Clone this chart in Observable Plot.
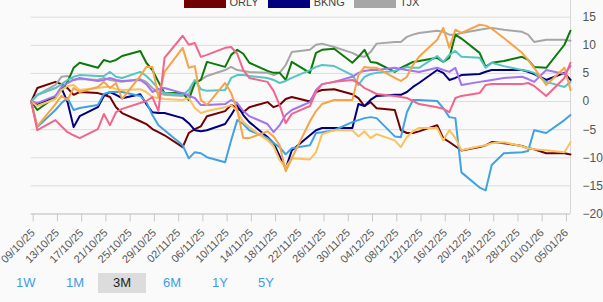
<!DOCTYPE html>
<html>
<head>
<meta charset="utf-8">
<script src="https://cdn.jsdelivr.net/npm/d3@7"></script>
<script src="https://cdn.jsdelivr.net/npm/@observablehq/plot@0.6"></script>
<style>
  html, body { margin: 0; padding: 0; background: #fafafa; width: 603px; height: 302px; overflow: hidden;
    font-family: "Liberation Sans", Arial, sans-serif; }
  #wrap { position: relative; width: 603px; height: 302px; }
  #chart { position: absolute; left: 0; top: 0; }
  #legend { position: absolute; left: 0; top: -4px; width: 603px; height: 12px; display: flex;
    justify-content: center; align-items: center; gap: 9px; }
  .item { display: flex; align-items: center; gap: 4px; font-size: 11px; line-height: 12px; color: #444; }
  .swatch { width: 42px; height: 12px; }
  #ranges { position: absolute; left: 0; top: 273px; height: 20px; }
  .btn { position: absolute; top: 0; height: 20px; line-height: 20px; font-size: 13px; color: #3d9be9; text-align: center; }
  .btn.on { background: #dcdcdc; color: #222; }
</style>
</head>
<body>
<div id="wrap">
  <div id="chart"></div>
  <div id="legend"></div>
  <div id="ranges"></div>
</div>
<script>
// Trading days shown on the chart
const dates = [
  "2025-10-09","2025-10-10","2025-10-13","2025-10-14","2025-10-15","2025-10-16","2025-10-17",
  "2025-10-20","2025-10-21","2025-10-22","2025-10-23","2025-10-24","2025-10-27","2025-10-28",
  "2025-10-29","2025-10-30","2025-10-31",
  "2025-11-03","2025-11-04","2025-11-05","2025-11-06","2025-11-07","2025-11-10","2025-11-11",
  "2025-11-12","2025-11-13","2025-11-14","2025-11-17","2025-11-18","2025-11-19","2025-11-20",
  "2025-11-21","2025-11-24","2025-11-25","2025-11-26","2025-11-28",
  "2025-12-01","2025-12-02","2025-12-03","2025-12-04","2025-12-05","2025-12-08","2025-12-09",
  "2025-12-10","2025-12-11","2025-12-12","2025-12-15","2025-12-16","2025-12-17","2025-12-18",
  "2025-12-19","2025-12-22","2025-12-23","2025-12-24","2025-12-26","2025-12-29","2025-12-30",
  "2025-12-31",
  "2026-01-02","2026-01-05","2026-01-06"
];

// Performance since 09/10/25, in percent
const orly = [0, 2.4, 3.5, 3.1, 2.4, 1.2, 1.7, 1.5, 1.2, 0.8, -1.0, -2.05, -3.5, -4.0, -4.9, -5.45, -6.0,
  -8.1, -5.6, -4.9, -4.4, -2.6, -1.7, -0.6, -1.2, -1.9, -1.0, -0.1, -1.0, -0.6, 0.45, 0.8, 0.0, 1.7, 2.05, 2.2,
  1.3, 0.6, -0.8, -0.1, -1.2, -1.5, -5.1, -5.6, -5.6, -5.3, -4.2, -6.5, -7.2, -7.95, -8.7, -8.1, -7.8, -7.2, -7.4, -7.9, -8.3, -8.5,
  -9.2, -9.2, -9.4];
const bkng = [0, -0.45, 0.8, 2.4, -0.1, -4.55, -2.6, -1.0, 1.0, 1.7, 1.2, 0.6, 1.3, -0.45, -1.9, -2.05, -2.05,
  -2.95, -3.85, -5.1, -5.3, -5.1, -4.0, -2.4, -0.6, -2.4, -3.66, -6.3, -7.4, -9.7, -11.9, -8.7, -6.0, -5.1, -4.7, -4.7,
  -4.7, -0.45, -0.8, 0.3, 1.0, 1.2, 1.2, 1.7, 2.6, 3.3, 5.6, 5.1, 3.84, 4.2, 4.7, 4.9, 5.3, 5.6, 5.6, 5.6, 5.3, 4.9,
  3.84, 5.1, 3.84];
const tjx = [0, 1.2, 2.95, 4.4, 4.55, 3.84, 4.0, 3.84, 4.2, 3.84, 3.66, 3.5, 4.0, 3.5, 2.4, 1.5, 1.2,
  1.0, 1.34, 3.3, 3.84, 4.55, 5.6, 6.16, 5.6, 5.45, 5.27, 5.1, 4.7, 5.1, 6.5, 8.8, 9.2, 10.1, 10.3, 9.7,
  8.66, 8.1, 7.95, 8.8, 10.3, 10.6, 10.6, 11.5, 11.9, 12.2, 12.6, 12.4, 11.9, 11.9, 12.2, 12.77, 12.95, 13.1, 12.77, 12.4, 11.9, 10.6,
  11.0, 11.0, 10.8];
const green = [0, -1.5, 0.8, 2.05, 3.5, 6.0, 6.9, 6.0, 7.4, 7.05, 7.4, 8.1, 9.0, 6.9, 5.6, 3.5, 1.5,
  1.5, 0.27, 3.3, 3.84, 7.05, 6.16, 8.3, 9.2, 8.5, 6.9, 5.45, 5.1, 5.1, 3.84, 7.05, 5.1, 8.66, 9.2, 9.4,
  6.9, 7.95, 9.2, 7.05, 6.9, 5.27, 6.0, 6.5, 7.05, 7.2, 7.77, 7.05, 7.77, 11.9, 11.2, 8.66, 6.16, 6.9, 7.2, 7.95, 7.4, 6.16,
  6.0, 10.1, 12.6];
const teal = [0, 1.16, 2.4, 3.1, 3.84, 4.4, 4.7, 4.55, 4.55, 5.27, 4.4, 4.2, 5.27, 4.55, 3.5, 2.2, 1.5,
  1.16, 2.05, 3.84, 2.2, 1.9, 2.05, 4.2, 4.7, 4.7, 4.55, 4.2, 3.84, 3.3, 3.66, 4.2, 5.6, 6.16, 6.5, 6.3,
  4.7, 2.95, 4.4, 4.9, 5.1, 5.45, 5.8, 6.16, 6.0, 6.0, 8.1, 7.05, 8.3, 9.0, 7.95, 7.77, 6.0, 6.9, 6.3, 5.6, 5.45, 5.1,
  3.5, 2.6, 3.5];
const purple = [0, -0.27, 1.0, 2.6, 3.3, 3.84, 4.2, 3.66, 3.84, 4.2, 3.84, 3.66, 3.84, 3.1, 1.7, 2.2, 2.4,
  1.5, 1.0, 0.63, -0.63, -0.63, -0.45, 0.27, -0.27, -1.7, -2.6, -4.0, -5.45, -4.2, -2.4, -1.5, -0.1, 2.05, 3.1, 3.5,
  4.4, 5.1, 5.45, 5.6, 5.6, 6.0, 5.8, 5.6, 5.45, 5.27, 6.0, 5.6, 5.27, 6.0, 2.95, 3.5, 3.66, 3.84, 4.2, 4.4, 4.0, 3.5,
  5.6, 4.9, 6.3];
const skyBlue = [0, -4.55, -1.5, -0.27, 0.63, -1.5, -1.16, -0.63, 1.34, 1.7, 1.7, 1.7, 1.0, -0.1, -2.4, -4.2, -5.1,
  -7.77, -10.1, -9.0, -9.2, -9.9, -10.8, -6.9, -3.3, -4.0, -5.1, -6.5, -7.4, -8.1, -9.4, -8.3, -7.77, -5.6, -5.45, -5.1,
  -3.66, -3.3, -2.95, -2.77, -2.95, -6.2, -6.34, -1.9, 0.27, 0.27, 0.1, -1.16, -2.77, -2.95, -12.6, -15.3, -15.8, -11.3, -9.2, -9.0, -8.8, -5.1,
  -5.6, -3.3, -2.4];
const gold = [0, -0.8, 0.45, 2.05, 2.77, 2.95, 2.05, 2.4, 2.6, 2.6, 2.2, 2.05, 2.2, 1.7, 0.8, 0.63, 0.45,
  0.27, 0.63, -1.16, -2.05, -1.7, -1.0, -0.63, -1.7, -3.66, -4.55, -6.9, -7.95, -10.4, -11.7, -10.1, -10.3, -9.0, -5.8, -5.1,
  -5.1, -6.2, -5.3, -6.5, -5.8, -6.9, -8.1, -6.3, -5.3, -4.7, -4.7, -6.9, -5.1, -6.5, -8.66, -7.95, -7.77, -7.4, -7.23, -7.95, -8.3, -8.5,
  -8.66, -9.0, -7.23];
const orange = [0, -4.4, -0.45, 1.0, 0.27, 2.4, 1.7, 2.6, 3.5, 2.4, 3.3, 0.45, 4.55, 6.16, 6.16, 0.8, 5.27,
  9.55, 6.0, 6.3, 0.27, -0.63, 3.3, 1.5, -1.5, -6.5, -6.5, -5.3, -6.2, -7.77, -12.4, -10.1, -3.5, -1.7, -0.45, 0.27,
  0.27, 4.7, 6.16, 6.0, 6.0, 4.2, 3.66, 4.4, 6.5, 7.95, 11.0, 13.1, 9.55, 12.77, 12.2, 13.66, 13.5, 12.95, 11.3, 8.66, 7.4, 6.0,
  2.95, 6.0, 2.05];
const pink = [0, -5.1, -3.3, -4.4, -5.45, -6.0, -6.5, -4.9, -2.2, -4.2, -1.9, -1.3, -0.27, 0.1, 0.8, -1.7, 7.77,
  11.7, 10.1, 10.4, 7.95, 8.3, 9.55, 9.7, 8.5, 5.6, 4.2, 3.5, 1.9, -0.63, -3.84, -2.2, -0.8, 1.7, 3.1, 3.5,
  3.84, 3.3, 2.4, 1.9, 1.34, 1.0, 0.8, 0.63, 0.1, -0.45, -1.0, -1.3, -1.9, 0.63, 1.0, 1.5, 2.95, 3.1, 3.1, 3.1, 3.3, 2.77,
  1.0, 4.2, 6.9];

// Series in drawing order, with their line colours
const seriesKeys   = ["ORLY", "BKNG", "TJX", "green", "teal", "purple", "skyBlue", "gold", "orange", "pink"];
const seriesValues = [orly, bkng, tjx, green, teal, purple, skyBlue, gold, orange, pink];
const seriesColors = ["#730000", "#00007f", "#a6a6a6", "#0b7a0b", "#55c4c2", "#a374f2", "#3fa3e3", "#fbc25c", "#f7a348", "#f2668b"];

// Legend entries
const legendNames  = ["ORLY", "BKNG", "TJX"];
const legendColors = ["#730000", "#00007f", "#a6a6a6"];

// Axis ticks
const xTickDates = ["2025-10-09","2025-10-13","2025-10-17","2025-10-21","2025-10-25","2025-10-29",
  "2025-11-02","2025-11-06","2025-11-10","2025-11-14","2025-11-18","2025-11-22","2025-11-26","2025-11-30",
  "2025-12-04","2025-12-08","2025-12-12","2025-12-16","2025-12-20","2025-12-24","2025-12-28",
  "2026-01-01","2026-01-05"];
const yTicks = [15, 10, 5, 0, -5, -10, -15, -20];

// Period selector
const rangeLabels = ["1W", "1M", "3M", "6M", "1Y", "5Y"];
const rangeActive = "3M";

const parse = d3.utcParse("%Y-%m-%d");
const rows = [];
seriesKeys.forEach((key, i) => {
  seriesValues[i].forEach((v, j) => rows.push({series: key, date: parse(dates[j]), value: v}));
});
const colorOf = Object.fromEntries(seriesKeys.map((k, i) => [k, seriesColors[i]]));
const xStart = parse("2025-10-09"), xEnd = parse("2026-01-06");

const chart = Plot.plot({
  width: 603,
  height: 270,
  marginTop: 16.7,
  marginBottom: 56.5,
  marginLeft: 30.7,
  marginRight: 33,
  style: {background: "transparent", fontFamily: "'Liberation Sans', Arial, sans-serif", overflow: "visible"},
  x: {type: "utc", domain: [xStart, xEnd]},
  y: {domain: [-20, 15]},
  marks: [
    Plot.gridY(yTicks, {stroke: "#dcdcdc", strokeOpacity: 1}),
    Plot.ruleX([xEnd], {y1: -20, y2: 18, stroke: "#d6d6d6"}),
    Plot.ruleY([-20], {stroke: "#c8c8c8"}),
    Plot.axisX(xTickDates.map(parse), {
      tickSize: 8, tickPadding: 9, tickRotate: -45, dx: 2,
      tickFormat: d3.utcFormat("%d/%m/%y"),
      stroke: "#c8c8c8", fill: "#555", fontSize: 11, label: null
    }),
    Plot.axisY(yTicks, {anchor: "right", tickSize: 0, tickPadding: 12, fill: "#555", fontSize: 12, label: null}),
    Plot.line(rows, {x: "date", y: "value", z: "series", stroke: d => colorOf[d.series],
      strokeWidth: 2, strokeLinejoin: "round", curve: "linear"})
  ]
});
document.getElementById("chart").append(chart);

// Legend
const legend = document.getElementById("legend");
legendNames.forEach((name, i) => {
  const item = document.createElement("div");
  item.className = "item";
  const sw = document.createElement("div");
  sw.className = "swatch";
  sw.style.background = legendColors[i];
  const label = document.createElement("span");
  label.textContent = name;
  item.append(sw, label);
  legend.append(item);
});

// Period buttons
const rangeLeft = [16, 66, 98, 163, 212, 258];
const rangeWidth = [17, 17, 48, 17, 13, 14];
const ranges = document.getElementById("ranges");
rangeLabels.forEach((lab, i) => {
  const b = document.createElement("div");
  b.className = "btn" + (lab === rangeActive ? " on" : "");
  b.textContent = lab;
  b.style.left = rangeLeft[i] + "px";
  b.style.width = rangeWidth[i] + "px";
  ranges.append(b);
});
</script>
</body>
</html>
